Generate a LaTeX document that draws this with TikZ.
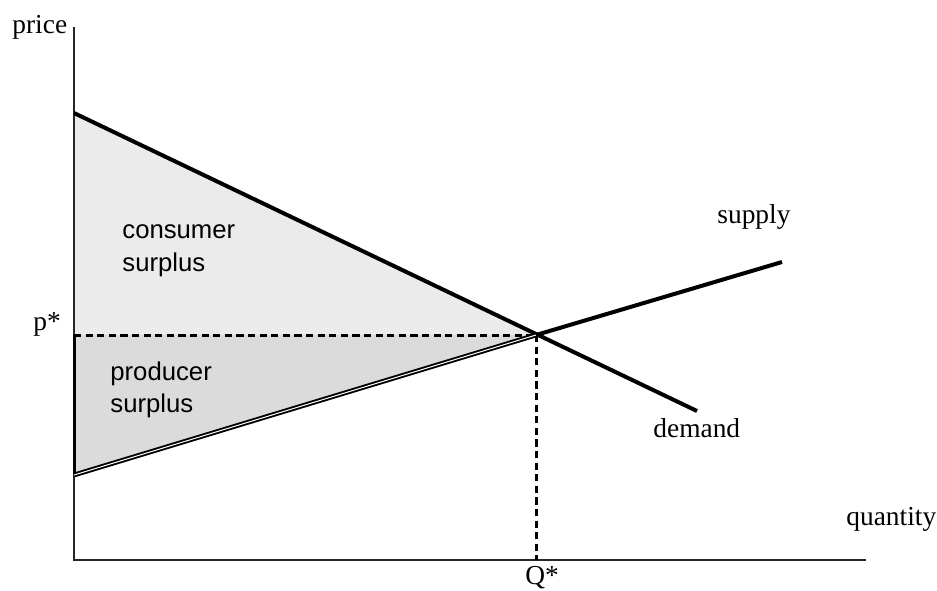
\documentclass[tikz,border=0pt]{standalone}
\usepackage{fontspec}
\setmainfont{Liberation Serif}
\newfontfamily\arialf{Liberation Sans}
\begin{document}
\begin{tikzpicture}[x=0.5pt,y=-0.5pt,
  axis/.style={line width=0.8pt,draw=black!85},
  curve/.style={line width=2pt,line cap=butt},
  guide/.style={line width=1.5pt,dash pattern=on 3.6pt off 2.2pt},
  serif/.style={font=\fontsize{13.7}{16}\selectfont,inner sep=0pt,anchor=base west},
  sanslbl/.style={font=\arialf\fontsize{12.85}{16}\selectfont,inner sep=0pt,anchor=base west}]
\useasboundingbox (0,0) rectangle (937,590);
% key points
\coordinate (O) at (74,560);
\coordinate (Ytop) at (74,27);
\coordinate (Xend) at (866,560);
\coordinate (D0) at (74,113);
\coordinate (D1) at (697,411);
\coordinate (S0) at (74,475);
\coordinate (S1) at (782,262);
\coordinate (E) at (536,335);
\coordinate (P) at (74,335);
\coordinate (Q) at (536,560);
% surplus areas
\fill[black!8] (D0) -- (E) -- (P) -- cycle;
\fill[black!14] (P) -- (E) -- (S0) -- cycle;
% axes
\draw[axis] (Ytop) -- (O) -- (Xend);
\draw[line width=1.5pt] (P) -- (S0);
% guides
\draw[guide] (P) -- (E);
\draw[guide] (E) -- (Q);
% curves
\draw[curve] (D0) -- (D1);
\draw[line width=0.95pt,double=white,double distance=0.5pt] (S0) -- (E);
\draw[curve] (E) -- (S1);
% labels
\node[serif] (price) at (12,33) {price};
\node[serif] (pstar) at (33,330) {p*};
\node[serif] (qstar) at (525,584) {Q*};
\node[serif] (qty) at (846,525) {quantity};
\node[serif] (sup) at (717,223) {supply};
\node[serif] (dem) at (653,437) {demand};
\node[sanslbl] (cs1) at (122,238) {consumer};
\node[sanslbl] (cs2) at (122,271) {surplus};
\node[sanslbl] (ps1) at (110,380) {producer};
\node[sanslbl] (ps2) at (110,412) {surplus};
\end{tikzpicture}
\end{document}
